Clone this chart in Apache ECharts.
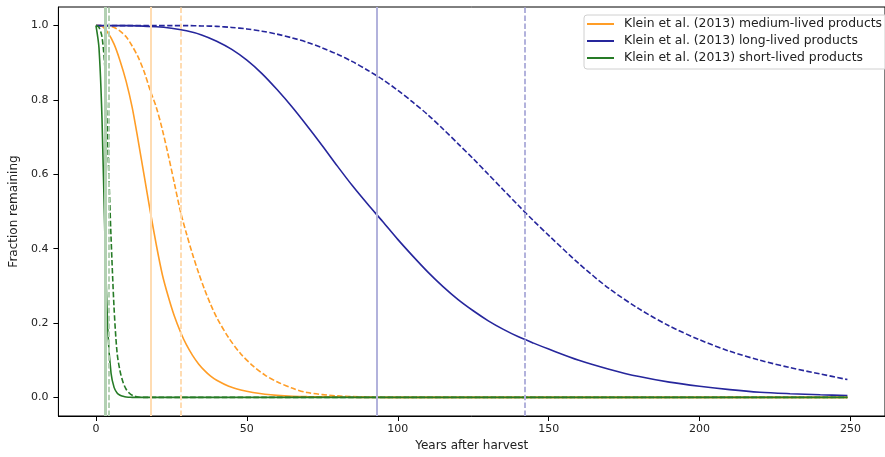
<!DOCTYPE html>
<html>
<head>
<meta charset="utf-8">
<script src="https://cdn.jsdelivr.net/npm/echarts@6/dist/echarts.min.js"></script>
<style>
    html, body {margin: 0; padding: 0; background: #fff;}
    #chartDiv {width: 885px; height: 457px;}
</style>
</head>
<body>
<div id="chartDiv"></div>
<script>
/*
 * 数据：读自原图
 * */
var mediumYears = [0, 2, 4, 6, 8, 10, 12, 14, 16, 18, 20, 22, 24, 26, 28, 30, 32, 34, 36, 38, 40, 44, 48, 52, 56, 60, 65, 70, 80, 90, 100, 110, 120, 249];
var mediumSolid = [1.0, 0.998, 0.98, 0.95, 0.905, 0.85, 0.78, 0.69, 0.595, 0.50, 0.41, 0.33, 0.27, 0.218, 0.176, 0.141, 0.113, 0.09, 0.072, 0.057, 0.046, 0.03, 0.02, 0.013, 0.0085, 0.0055, 0.0032, 0.002, 0.001, 0, 0, 0, 0, 0];
var mediumDashed = [1.0, 1.0, 0.999, 0.995, 0.985, 0.97, 0.945, 0.915, 0.875, 0.825, 0.78, 0.72, 0.65, 0.575, 0.50, 0.44, 0.385, 0.335, 0.29, 0.25, 0.215, 0.16, 0.117, 0.085, 0.06, 0.042, 0.025, 0.013, 0.004, 0.001, 0, 0, 0, 0];

var longYears = [0, 10, 20, 25, 30, 35, 40, 45, 50, 55, 60, 65, 70, 75, 80, 85, 90, 95, 100, 105, 110, 115, 120, 125, 130, 135, 140, 145, 150, 160, 170, 180, 190, 200, 210, 220, 230, 240, 249];
var longSolid = [1.0, 1.0, 0.997, 0.993, 0.986, 0.975, 0.958, 0.936, 0.907, 0.871, 0.828, 0.781, 0.73, 0.677, 0.622, 0.569, 0.52, 0.473, 0.425, 0.38, 0.337, 0.298, 0.263, 0.233, 0.206, 0.183, 0.163, 0.146, 0.13, 0.10, 0.076, 0.056, 0.041, 0.03, 0.021, 0.014, 0.01, 0.007, 0.005];
var longDashed = [1.0, 1.0, 1.0, 1.0, 1.0, 0.999, 0.998, 0.995, 0.991, 0.985, 0.977, 0.967, 0.955, 0.94, 0.923, 0.903, 0.88, 0.855, 0.826, 0.794, 0.76, 0.722, 0.682, 0.642, 0.60, 0.558, 0.516, 0.475, 0.436, 0.36, 0.293, 0.238, 0.192, 0.155, 0.124, 0.10, 0.08, 0.063, 0.048];

var shortYears = [0, 1, 2, 3, 4, 5, 6, 7, 8, 9, 10, 11, 12, 14, 16, 20, 249];
var shortSolid = [1.0, 0.94, 0.75, 0.42, 0.17, 0.065, 0.027, 0.012, 0.006, 0.003, 0.001, 0.0005, 0, 0, 0, 0, 0];
var shortDashed = [1.0, 0.995, 0.97, 0.88, 0.66, 0.43, 0.24, 0.12, 0.07, 0.04, 0.022, 0.012, 0.006, 0.001, 0, 0, 0];

// 半衰期竖线（实线 / 虚线）
var halfLifeSolid = [3.2, 18, 93];
var halfLifeDashed = [4.2, 28, 142];

var xTicks = [0, 50, 100, 150, 200, 250];
var yTicks = [0, 0.2, 0.4, 0.6, 0.8, 1.0];

var legendNames = ["Klein et al. (2013) medium-lived products", "Klein et al. (2013) long-lived products", "Klein et al. (2013) short-lived products"];

var curveColors = ["#ff9d26", "#26269c", "#267b26"];
var guideColors = ["#b2d0b2", "#ffdcb2", "#b2b2dc"];
var guideWidths = [3, 2, 2];

function pairs(xs, ys) {
    var out = [];
    for (var i = 0; i < xs.length; i++) {
        out.push([xs[i], ys[i]]);
    }
    return out;
}

function curve(name, xs, ys, color, dashed) {
    return {
        name: name,
        type: 'line',
        data: pairs(xs, ys),
        showSymbol: false,
        smooth: 0.3,
        z: 3,
        itemStyle: {color: color},
        lineStyle: {color: color, width: 1.6, type: dashed ? [5.5, 2.4] : 'solid'}
    };
}

/*
 * 竖线放在单独的空序列里，画在曲线下面
 * */
function guide(value, color, width, dashed) {
    return {
        name: 'guide' + value,
        type: 'line',
        data: [],
        z: 1,
        markLine: {
            silent: true,
            symbol: 'none',
            label: {show: false},
            lineStyle: {color: color, width: width, type: dashed ? [5.5, 2.4] : 'solid'},
            data: [{xAxis: value}]
        }
    };
}

var series = [];
for (var i = 0; i < 3; i++) {
    series.push(guide(halfLifeSolid[i], guideColors[i], guideWidths[i], false));
    series.push(guide(halfLifeDashed[i], guideColors[i], 2, true));
}
series.push(curve(legendNames[0], mediumYears, mediumSolid, curveColors[0], false));
series.push(curve('medium dashed', mediumYears, mediumDashed, curveColors[0], true));
series.push(curve(legendNames[1], longYears, longSolid, curveColors[1], false));
series.push(curve('long dashed', longYears, longDashed, curveColors[1], true));
series.push(curve(legendNames[2], shortYears, shortSolid, curveColors[2], false));
series.push(curve('short dashed', shortYears, shortDashed, curveColors[2], true));

var font = 'DejaVu Sans';
var chart = echarts.init(document.getElementById('chartDiv'));

var option = {
    animation: false,
    backgroundColor: '#fff',
    grid: {
        left: 58,
        right: -8,
        top: 7,
        bottom: 41,
        show: true,
        borderColor: '#000',
        borderWidth: 1,
        backgroundColor: 'transparent'
    },
    legend: {
        data: legendNames,
        orient: 'vertical',
        left: 584,
        top: 15,
        padding: [3, 8, 5, 3],
        itemGap: 5,
        itemWidth: 27,
        itemHeight: 2,
        icon: 'rect',
        borderColor: '#d0d0d0',
        borderWidth: 1,
        borderRadius: 3,
        backgroundColor: 'rgba(255,255,255,0.8)',
        textStyle: {fontFamily: font, fontSize: 12.4, color: '#222', padding: [0, 0, 0, 5]}
    },
    xAxis: {
        type: 'value',
        min: -12.45,
        max: 261.45,
        name: 'Years after harvest',
        nameLocation: 'middle',
        nameGap: 23,
        nameTextStyle: {fontFamily: font, fontSize: 12, color: '#222'},
        splitLine: {show: false},
        axisLine: {show: true, onZero: false, lineStyle: {color: '#000', width: 1}},
        axisTick: {show: true, length: 5, customValues: xTicks, lineStyle: {color: '#000'}},
        axisLabel: {customValues: xTicks, margin: 8, fontFamily: font, fontSize: 11, color: '#222'}
    },
    yAxis: {
        type: 'value',
        min: -0.05,
        max: 1.05,
        name: 'Fraction remaining',
        nameLocation: 'middle',
        nameGap: 34,
        nameTextStyle: {fontFamily: font, fontSize: 12, color: '#222'},
        splitLine: {show: false},
        axisLine: {show: true, onZero: false, lineStyle: {color: '#000', width: 1}},
        axisTick: {show: true, length: 5, customValues: yTicks, lineStyle: {color: '#000'}},
        axisLabel: {
            customValues: yTicks,
            margin: 10,
            fontFamily: font,
            fontSize: 11,
            color: '#222',
            formatter: function (v) {
                return v.toFixed(1);
            }
        }
    },
    series: series
};

chart.setOption(option);
</script>
</body>
</html>
